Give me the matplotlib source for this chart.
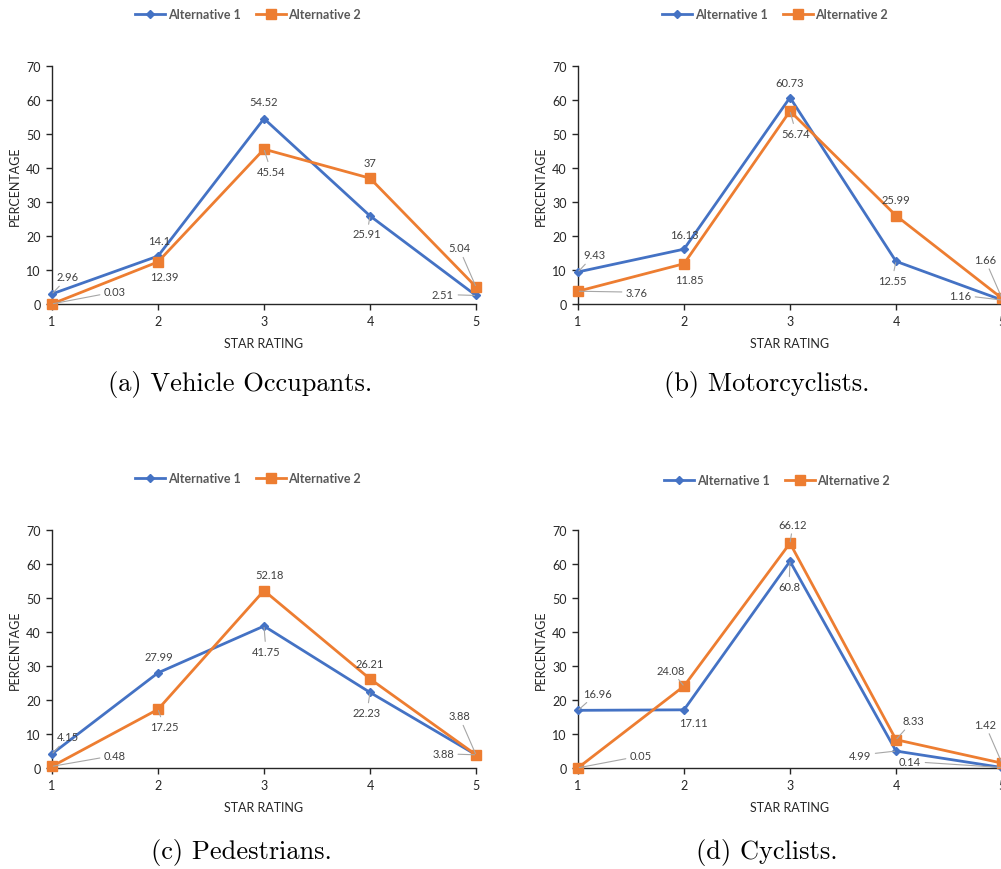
import matplotlib
matplotlib.use("Agg")
import matplotlib.pyplot as plt
import numpy as np

# ---- data ----
ratings = [1, 2, 3, 4, 5]
series_names = ["Alternative 1", "Alternative 2"]

occupants_alt1 = [2.96, 14.1, 54.52, 25.91, 2.51]
occupants_alt2 = [0.03, 12.39, 45.54, 37, 5.04]

motorcyclists_alt1 = [9.43, 16.13, 60.73, 12.55, 1.16]
motorcyclists_alt2 = [3.76, 11.85, 56.74, 25.99, 1.66]

pedestrians_alt1 = [4.15, 27.99, 41.75, 22.23, 3.88]
pedestrians_alt2 = [0.48, 17.25, 52.18, 26.21, 3.88]

cyclists_alt1 = [16.96, 17.11, 60.8, 4.99, 0.14]
cyclists_alt2 = [0.05, 24.08, 66.12, 8.33, 1.42]

captions = ["(a) Vehicle Occupants.", "(b) Motorcyclists.",
            "(c) Pedestrians.", "(d) Cyclists."]

# ---- layout (pixel offsets of data labels from their points, dx right, dy up) ----
off_a = ([(16, 17), (1, 16), (0, 17), (-3, -18), (-33, 1)],
         [(63, 12), (6, -15), (7, -22), (0, 16), (-17, 39)])
off_b = ([(16, 17), (0, 15), (0, 15), (-4, -19), (-42, 5)],
         [(59, -1), (5, -16), (6, -22), (0, 16), (-17, 39)])
off_c = ([(16, 17), (1, 16), (2, -25), (-3, -20), (-33, 1)],
         [(63, 11), (6, -17), (6, 16), (0, 15), (-17, 39)])
off_d = ([(19, 17), (9, -13), (-1, -25), (-36, -4), (-92, 6)],
         [(63, 12), (-13, 16), (3, 19), (17, 19), (-17, 39)])

W, H = 1001, 870
BLUE = "#4472C4"
ORANGE = "#ED7D31"
TXT = "#404040"

panels = [
    (occupants_alt1, occupants_alt2, off_a, (52, 305), (248, 15), (240, 385)),
    (motorcyclists_alt1, motorcyclists_alt2, off_b, (578, 305), (775, 15), (767, 385)),
    (pedestrians_alt1, pedestrians_alt2, off_c, (52, 769), (248, 479), (241, 853)),
    (cyclists_alt1, cyclists_alt2, off_d, (578, 769), (777, 481), (767, 853)),
]

plt.rcParams['font.family'] = ['Lato', 'DejaVu Sans']

fig = plt.figure(figsize=(W / 100, H / 100), dpi=100)

for i, (alt1, alt2, offs, origin, leg_c, cap_c) in enumerate(panels):
    x0, y0 = origin
    ax = fig.add_axes([x0 / W, (H - y0) / H, 424 / W, 238 / H])
    ax.set_xlim(1, 5)
    ax.set_ylim(0, 70)
    ax.set_xticks(ratings)
    ax.set_yticks(np.arange(0, 71, 10))
    for s in ['top', 'right']:
        ax.spines[s].set_visible(False)
    for s in ['left', 'bottom']:
        ax.spines[s].set_color('#262626')
        ax.spines[s].set_linewidth(1.0)
    ax.tick_params(axis='both', direction='out', length=4, width=1, color='#262626',
                   labelsize=9, labelcolor='#262626', pad=4)
    ax.set_xlabel("STAR RATING", fontsize=9, color='#262626', labelpad=7)
    ax.set_ylabel("PERCENTAGE", fontsize=9, color='#262626', labelpad=4)

    ax.plot(ratings, alt1, '-D', color=BLUE, lw=2, ms=4.5, label=series_names[0],
            clip_on=False, zorder=3)
    ax.plot(ratings, alt2, '-s', color=ORANGE, lw=2, ms=7, label=series_names[1],
            clip_on=False, zorder=3)

    for vals, off in ((alt1, offs[0]), (alt2, offs[1])):
        for r, v, (dx, dy) in zip(ratings, vals, off):
            dist = np.hypot(dx, dy)
            props = None
            if dist > 18:
                props = dict(arrowstyle='-', color='#A6A6A6', lw=0.8,
                             shrinkA=1, shrinkB=1)
            ax.annotate(f"{v:g}", xy=(r, v), xytext=(dx, dy),
                        textcoords='offset pixels', ha='center', va='center',
                        fontsize=8, color=TXT, arrowprops=props,
                        annotation_clip=False, zorder=4)

    ax.legend(loc='center', bbox_to_anchor=(leg_c[0] / W, 1 - leg_c[1] / H),
              bbox_transform=fig.transFigure, ncol=2, frameon=False,
              handlelength=2.4, columnspacing=1.2, handletextpad=0.2,
              prop=dict(size=9, weight='bold'), labelcolor='#595959')

    fig.text(cap_c[0] / W, 1 - cap_c[1] / H, captions[i], family='cmr10',
             fontsize=19, ha='center', va='center', color='black')

fig.savefig("out.png", dpi=100)
